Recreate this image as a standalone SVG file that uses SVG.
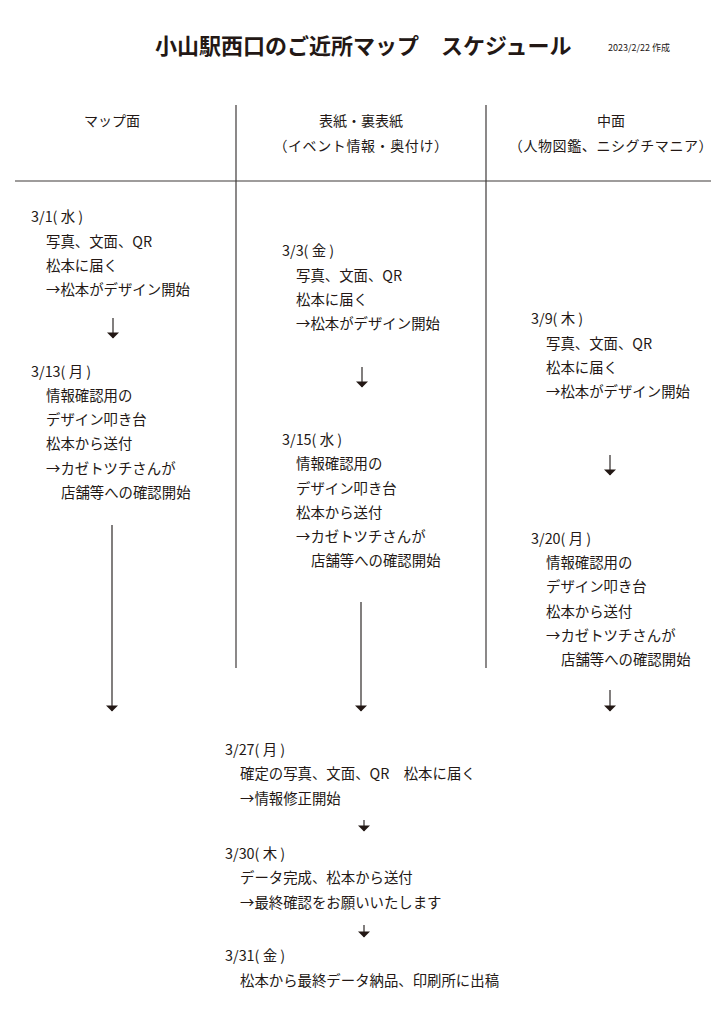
<svg xmlns="http://www.w3.org/2000/svg" width="724" height="1024" viewBox="0 0 724 1024">
<defs>
<style>
text{font-family:"Noto Sans CJK JP","Noto Sans",sans-serif;fill:#231815;font-size:14.4px}
.title{font-size:22px;font-weight:bold}
.small{font-size:9px}
.hd{text-anchor:middle;font-size:14px}
.rule{stroke:#3e3a39;stroke-width:1.2;fill:none}
</style>
<marker id="ah" markerUnits="userSpaceOnUse" markerWidth="12" markerHeight="8" refX="6" refY="6" viewBox="0 0 12 8" orient="0">
<path d="M0,0.5 L12,0.5 L6,6.5 Z" fill="#231815"/>
</marker>
</defs>
<rect width="724" height="1024" fill="#ffffff"/>
<g id="title">
<text class="title" x="155" y="54">小山駅西口のご近所マップ　スケジュール</text>
<text class="small" x="608" y="51">2023/2/22 作成</text>
</g>
<g id="grid">
<line class="rule" x1="236" y1="105" x2="236" y2="668"/>
<line class="rule" x1="486" y1="105" x2="486" y2="668"/>
<line class="rule" x1="15" y1="181" x2="711" y2="181"/>
</g>
<g id="headers">
<text class="hd" x="112" y="126">マップ面</text>
<text class="hd" x="361" y="126">表紙・裏表紙</text>
<text class="hd" x="361" y="151" style="letter-spacing:0.6px">（イベント情報・奥付け）</text>
<text class="hd" x="611" y="126">中面</text>
<text class="hd" x="611" y="151" style="letter-spacing:0.6px">（人物図鑑、ニシグチマニア）</text>
</g>
<g id="n-0301">
<text x="31" y="222">3/1( 水 )</text>
<text x="46" y="247">写真、文面、QR</text>
<text x="46" y="271">松本に届く</text>
<text x="46" y="295">→松本がデザイン開始</text>
</g>
<g id="n-0313">
<text x="31" y="377">3/13( 月 )</text>
<text x="46" y="401">情報確認用の</text>
<text x="46" y="425">デザイン叩き台</text>
<text x="46" y="449">松本から送付</text>
<text x="46" y="474">→カゼトツチさんが</text>
<text x="61" y="498">店舗等への確認開始</text>
</g>
<g id="n-0303">
<text x="282" y="256">3/3( 金 )</text>
<text x="296" y="281">写真、文面、QR</text>
<text x="296" y="305">松本に届く</text>
<text x="296" y="329">→松本がデザイン開始</text>
</g>
<g id="n-0315">
<text x="282" y="445">3/15( 水 )</text>
<text x="296" y="469">情報確認用の</text>
<text x="296" y="494">デザイン叩き台</text>
<text x="296" y="518">松本から送付</text>
<text x="296" y="542">→カゼトツチさんが</text>
<text x="311" y="566">店舗等への確認開始</text>
</g>
<g id="n-0309">
<text x="531" y="324">3/9( 木 )</text>
<text x="546" y="349">写真、文面、QR</text>
<text x="546" y="373">松本に届く</text>
<text x="546" y="397">→松本がデザイン開始</text>
</g>
<g id="n-0320">
<text x="531" y="544">3/20( 月 )</text>
<text x="546" y="568">情報確認用の</text>
<text x="546" y="592">デザイン叩き台</text>
<text x="546" y="617">松本から送付</text>
<text x="546" y="641">→カゼトツチさんが</text>
<text x="561" y="665">店舗等への確認開始</text>
</g>
<g id="n-0327">
<text x="225" y="755">3/27( 月 )</text>
<text x="240" y="779">確定の写真、文面、QR　松本に届く</text>
<text x="240" y="804">→情報修正開始</text>
</g>
<g id="n-0330">
<text x="225" y="859">3/30( 木 )</text>
<text x="240" y="883">データ完成、松本から送付</text>
<text x="240" y="908">→最終確認をお願いいたします</text>
</g>
<g id="n-0331">
<text x="225" y="961">3/31( 金 )</text>
<text x="240" y="986">松本から最終データ納品、印刷所に出稿</text>
</g>
<g id="connectors" stroke="#3e3a39" stroke-width="1.3">
<line x1="113" y1="318" x2="113" y2="338" marker-end="url(#ah)"/>
<line x1="112" y1="525" x2="112" y2="711" marker-end="url(#ah)"/>
<line x1="362" y1="367" x2="362" y2="387" marker-end="url(#ah)"/>
<line x1="361" y1="602" x2="361" y2="711" marker-end="url(#ah)"/>
<line x1="610" y1="455" x2="610" y2="475" marker-end="url(#ah)"/>
<line x1="610" y1="690" x2="610" y2="711" marker-end="url(#ah)"/>
<line x1="364" y1="820" x2="364" y2="831" marker-end="url(#ah)"/>
<line x1="364" y1="925" x2="364" y2="937" marker-end="url(#ah)"/>
</g>
</svg>
